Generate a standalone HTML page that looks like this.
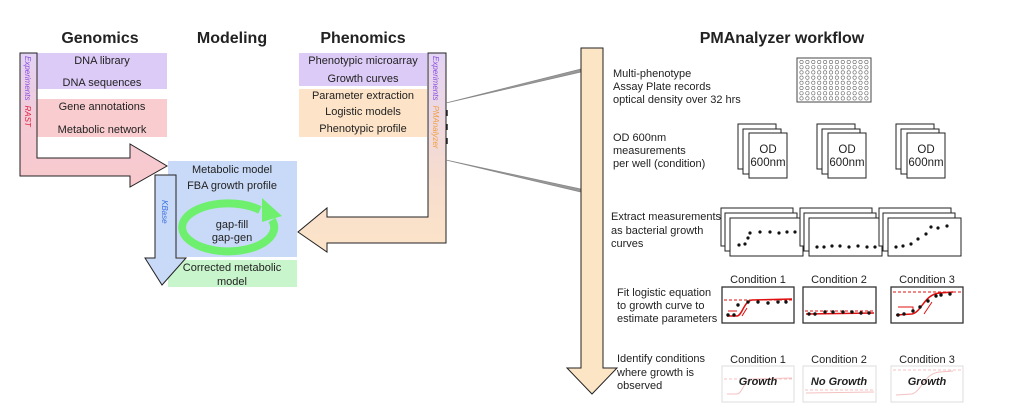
<!DOCTYPE html>
<html><head><meta charset="utf-8"><style>
html,body{margin:0;padding:0;background:#fff}
svg{display:block}
text{font-family:"Liberation Sans",Arial,sans-serif;fill:#222}
.t{font-size:11px}
.h{font-size:16px;font-weight:bold}
</style></head><body>
<svg width="1024" height="411" viewBox="0 0 1024 411" xmlns="http://www.w3.org/2000/svg">
<defs>
<linearGradient id="gp" x1="0" y1="0" x2="0" y2="1"><stop offset="0" stop-color="#e2d3f6"/><stop offset="0.5" stop-color="#f4cbd6"/><stop offset="1" stop-color="#f8c9cc"/></linearGradient>
<linearGradient id="go" x1="0" y1="0" x2="0" y2="1"><stop offset="0" stop-color="#e3d4f5"/><stop offset="0.6" stop-color="#f6dccf"/><stop offset="1" stop-color="#fce4c8"/></linearGradient>
<marker id="ga" markerWidth="4" markerHeight="4" refX="2" refY="2" orient="auto"><path d="M0,0 L4,2 L0,4z" fill="#66ee66"/></marker>
</defs>
<!-- titles -->
<text class="h" x="100" y="43" text-anchor="middle">Genomics</text>
<text class="h" x="232" y="43" text-anchor="middle">Modeling</text>
<text class="h" x="363" y="43" text-anchor="middle">Phenomics</text>
<text class="h" x="782" y="43" text-anchor="middle">PMAnalyzer workflow</text>

<!-- genomics boxes -->
<rect x="37" y="53" width="130" height="36" fill="#dccbf7"/>
<text class="t" x="102" y="64" text-anchor="middle">DNA library</text>
<text class="t" x="102" y="86" text-anchor="middle">DNA sequences</text>
<rect x="37" y="99" width="130" height="38" fill="#f9cdd0"/>
<text class="t" x="102" y="110" text-anchor="middle">Gene annotations</text>
<text class="t" x="102" y="133" text-anchor="middle">Metabolic network</text>

<!-- genomics arrow -->
<path d="M20,53 L37,53 L37,158 L130,158 L130,144 L167,166 L130,187 L130,176 L20,176 Z" fill="url(#gp)" stroke="#222" stroke-width="1"/>
<text x="0" y="0" font-size="8" transform="translate(25,56) rotate(90)" font-style="italic"><tspan fill="#8a4fe0">Experiments</tspan><tspan dx="5" fill="#e02040">RAST</tspan></text>

<!-- modeling -->
<rect x="168" y="161" width="129" height="96" fill="#c9daf8"/>
<text class="t" x="232" y="173" text-anchor="middle">Metabolic model</text>
<text class="t" x="232" y="189" text-anchor="middle">FBA growth profile</text>
<path d="M260,210 A46,24 0 1 0 272,220" fill="none" stroke="#6ef06e" stroke-width="8"/>
<path d="M262,198 L282,216 L262,222 Z" fill="#6ef06e"/>
<text class="t" x="232" y="228" text-anchor="middle">gap-fill</text>
<text class="t" x="232" y="241" text-anchor="middle">gap-gen</text>
<rect x="168" y="260" width="129" height="27" fill="#c8f5cc"/>
<text class="t" x="232" y="271" text-anchor="middle">Corrected metabolic</text>
<text class="t" x="232" y="285" text-anchor="middle">model</text>
<path d="M155,175 L176,175 L176,258 L186,258 L162,285 L145,258 L155,258 Z" fill="#c9daf8" stroke="#222" stroke-width="1"/>
<text x="0" y="0" font-size="8" fill="#3a70e0" font-style="italic" transform="translate(162,200) rotate(90)" style="fill:#3a70e0">KBase</text>

<!-- phenomics boxes -->
<rect x="299" y="53" width="128" height="33" fill="#dccbf7"/>
<text class="t" x="363" y="64" text-anchor="middle">Phenotypic microarray</text>
<text class="t" x="363" y="82" text-anchor="middle">Growth curves</text>
<rect x="299" y="89" width="128" height="48" fill="#fde4c8"/>
<text class="t" x="363" y="99" text-anchor="middle">Parameter extraction</text>
<text class="t" x="363" y="115" text-anchor="middle">Logistic models</text>
<text class="t" x="363" y="132" text-anchor="middle">Phenotypic profile</text>
<path d="M428,53 L446,53 L446,243 L327,243 L327,252 L298,232 L327,208 L327,217 L428,217 Z" fill="url(#go)" stroke="#222" stroke-width="1"/>
<text x="0" y="0" font-size="8" font-style="italic" transform="translate(433,56) rotate(90)"><tspan style="fill:#8a4fe0">Experiments</tspan><tspan dx="5" style="fill:#f0a040">PMAnalyzer</tspan></text>
<g stroke="#222" stroke-width="1.5"><line x1="447" y1="110" x2="447" y2="116"/><line x1="447" y1="124" x2="447" y2="130"/><line x1="447" y1="138" x2="447" y2="144"/></g>
<path d="M446,103 L585,68 L585,71 Z" fill="#999" stroke="#888" stroke-width="0.8"/>
<path d="M446,160 L585,193 L585,190 Z" fill="#999" stroke="#888" stroke-width="0.8"/>

<!-- right big arrow -->
<path d="M581,48 L603,48 L603,368 L617,368 L592,394 L567,368 L581,368 Z" fill="#fce5c4" stroke="#222" stroke-width="1"/>

<!-- row1 -->
<text class="t" x="613" y="77">Multi-phenotype</text>
<text class="t" x="613" y="90">Assay Plate records</text>
<text class="t" x="613" y="103">optical density over 32 hrs</text>
<rect x="797" y="58" width="74" height="44" fill="#fff" stroke="#444" stroke-width="1"/>
<g fill="none" stroke="#555" stroke-width="0.6" id="wells"></g>
<g fill="none" stroke="#555" stroke-width="0.6">
<!-- 12x8 grid -->
<path d="M0,0" />
</g>
<g id="grid" fill="none" stroke="#666" stroke-width="0.6">
<circle cx="801" cy="62" r="1.6"/>
</g>

<!-- row2 cards -->
<g fill="#fff" stroke="#222" stroke-width="1">
<rect x="738" y="124" width="38" height="45"/><rect x="743" y="129" width="38" height="45"/><rect x="749" y="133" width="38" height="45"/>
<rect x="817" y="124" width="38" height="45"/><rect x="822" y="129" width="38" height="45"/><rect x="828" y="133" width="38" height="45"/>
<rect x="896" y="124" width="38" height="45"/><rect x="901" y="129" width="38" height="45"/><rect x="907" y="133" width="38" height="45"/>
</g>
<text class="t" x="613" y="141">OD 600nm</text>
<text class="t" x="613" y="154">measurements</text>
<text class="t" x="613" y="167">per well (condition)</text>
<g font-size="11.5" text-anchor="middle">
<text x="768" y="153">OD</text><text x="768" y="166">600nm</text>
<text x="847" y="153">OD</text><text x="847" y="166">600nm</text>
<text x="926" y="153">OD</text><text x="926" y="166">600nm</text>
</g>

<!-- row3 -->
<text class="t" x="611" y="220">Extract measurements</text>
<text class="t" x="611" y="234">as bacterial growth</text>
<text class="t" x="611" y="247">curves</text>
<g fill="#fff" stroke="#222" stroke-width="1">
<rect x="721" y="208" width="72" height="38"/><rect x="725" y="213" width="72" height="38"/><rect x="730" y="218" width="73" height="38"/>
<rect x="800" y="208" width="72" height="38"/><rect x="804" y="213" width="72" height="38"/><rect x="809" y="218" width="73" height="38"/>
<rect x="879" y="208" width="72" height="38"/><rect x="883" y="213" width="72" height="38"/><rect x="888" y="218" width="73" height="38"/>
</g>
<g fill="#111">
<circle cx="739" cy="245" r="1.6"/><circle cx="745" cy="244" r="1.6"/><circle cx="748" cy="238" r="1.6"/><circle cx="750" cy="233" r="1.6"/><circle cx="760" cy="232" r="1.6"/><circle cx="770" cy="232" r="1.6"/><circle cx="779" cy="233" r="1.6"/><circle cx="787" cy="232" r="1.6"/><circle cx="795" cy="232" r="1.6"/>
<circle cx="817" cy="247" r="1.6"/><circle cx="824" cy="247" r="1.6"/><circle cx="832" cy="246" r="1.6"/><circle cx="840" cy="246" r="1.6"/><circle cx="849" cy="247" r="1.6"/><circle cx="858" cy="246" r="1.6"/><circle cx="867" cy="247" r="1.6"/><circle cx="875" cy="247" r="1.6"/>
<circle cx="896" cy="247" r="1.6"/><circle cx="903" cy="246" r="1.6"/><circle cx="911" cy="244" r="1.6"/><circle cx="918" cy="239" r="1.6"/><circle cx="926" cy="234" r="1.6"/><circle cx="931" cy="227" r="1.6"/><circle cx="938" cy="228" r="1.6"/><circle cx="947" cy="226" r="1.6"/>
</g>

<!-- row4 -->
<text class="t" x="617" y="296">Fit logistic equation</text>
<text class="t" x="617" y="309">to growth curve to</text>
<text class="t" x="617" y="322">estimate parameters</text>
<g font-size="11" text-anchor="middle">
<text x="758" y="283">Condition 1</text><text x="839" y="283">Condition 2</text><text x="927" y="283">Condition 3</text>
</g>
<g fill="#fff" stroke="#333" stroke-width="1.3">
<rect x="722" y="287" width="72" height="36"/><rect x="803" y="287" width="73" height="36"/><rect x="891" y="287" width="72" height="36"/>
</g>
<g fill="none" stroke="#e01010" stroke-width="1">
<line x1="724" y1="300" x2="792" y2="300" stroke-dasharray="3,2"/>
<path d="M727,316 L737,316 C742,316 744,301 752,300 L792,299" stroke-width="1.5"/>
<path d="M728,311 L737,311" /><path d="M742,316 L747,308"/>
<line x1="805" y1="311" x2="874" y2="311" stroke-dasharray="3,2"/>
<path d="M806,314 L874,313" stroke-width="1.5"/>
<line x1="893" y1="292" x2="961" y2="292" stroke-dasharray="3,2"/>
<path d="M896,315 L912,314 C922,312 924,294 940,293 L953,292" stroke-width="1.5"/>
<path d="M898,307 L913,307 L913,311"/><path d="M924,314 L932,302"/>
</g>
<g fill="#111">
<circle cx="728" cy="315" r="1.7"/><circle cx="734" cy="315" r="1.7"/><circle cx="738" cy="305" r="1.7"/><circle cx="748" cy="302" r="1.7"/><circle cx="758" cy="302" r="1.7"/><circle cx="768" cy="303" r="1.7"/><circle cx="778" cy="302" r="1.7"/><circle cx="786" cy="302" r="1.7"/>
<circle cx="809" cy="314" r="1.7"/><circle cx="815" cy="314" r="1.7"/><circle cx="825" cy="312" r="1.7"/><circle cx="833" cy="312" r="1.7"/><circle cx="843" cy="312" r="1.7"/><circle cx="852" cy="312" r="1.7"/><circle cx="861" cy="313" r="1.7"/><circle cx="869" cy="313" r="1.7"/>
<circle cx="898" cy="315" r="1.7"/><circle cx="904" cy="314" r="1.7"/><circle cx="913" cy="311" r="1.7"/><circle cx="920" cy="307" r="1.7"/><circle cx="928" cy="301" r="1.7"/><circle cx="936" cy="296" r="1.7"/><circle cx="941" cy="295" r="1.7"/><circle cx="950" cy="294" r="1.7"/>
</g>

<!-- row5 -->
<text class="t" x="617" y="362">Identify conditions</text>
<text class="t" x="617" y="376">where growth is</text>
<text class="t" x="617" y="389">observed</text>
<g font-size="11" text-anchor="middle">
<text x="758" y="363">Condition 1</text><text x="839" y="363">Condition 2</text><text x="927" y="363">Condition 3</text>
</g>
<g fill="#fff" stroke="#ddd" stroke-width="1">
<rect x="722" y="366" width="72" height="36"/><rect x="803" y="366" width="73" height="36"/><rect x="891" y="366" width="72" height="36"/>
</g>
<g fill="none" stroke="#f4c0c0" stroke-width="1">
<line x1="724" y1="379" x2="792" y2="379" stroke-dasharray="3,2"/>
<path d="M727,394 L737,394 C742,394 744,380 752,379 L792,378"/>
<line x1="805" y1="390" x2="874" y2="390" stroke-dasharray="3,2"/>
<path d="M806,393 L874,392"/>
<line x1="893" y1="370" x2="961" y2="370" stroke-dasharray="3,2"/>
<path d="M896,395 L912,394 C922,391 924,373 940,372 L953,371"/>
</g>
<g font-size="11" font-weight="bold" font-style="italic" text-anchor="middle">
<text x="758" y="385">Growth</text><text x="839" y="385">No Growth</text><text x="927" y="385">Growth</text>
</g>
</svg>
<script>
(function(){var g=document.getElementById('grid');g.innerHTML='';var s='';
for(var r=0;r<8;r++)for(var c=0;c<12;c++){s+='<circle cx="'+(801.5+c*5.9)+'" cy="'+(62+r*5.2)+'" r="1.7"/>';}
g.innerHTML=s;})();
</script>
</body></html>
